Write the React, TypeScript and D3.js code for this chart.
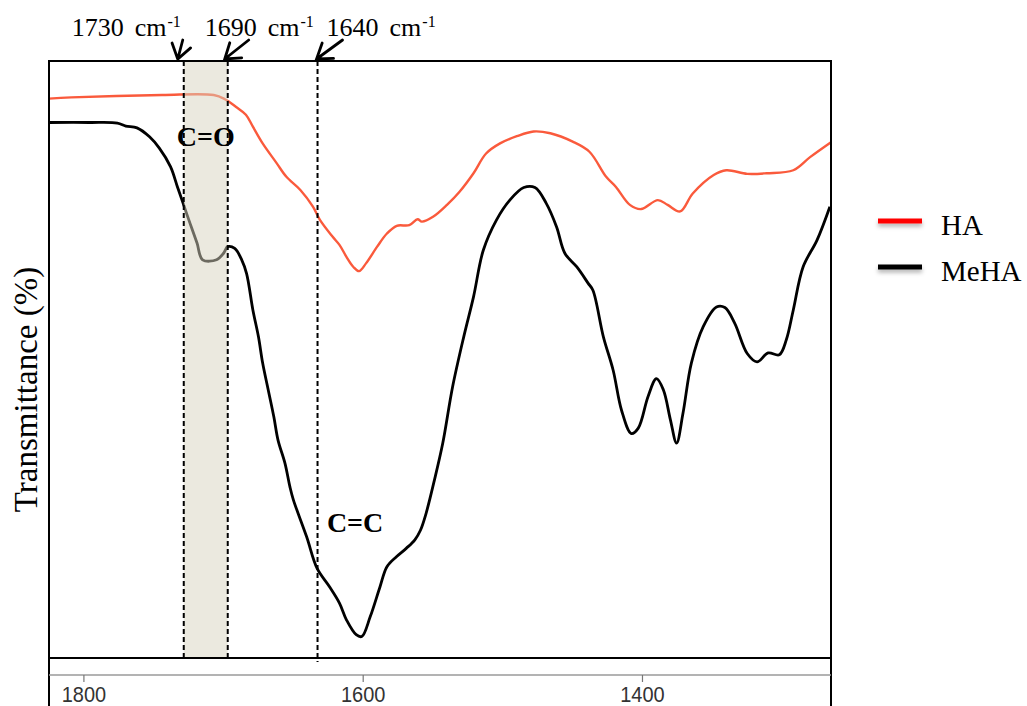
import * as d3 from "d3";
import { useEffect, useRef } from "react";

// wavenumber (cm-1) vs transmittance (%)
const haData: [number, number][] = [
  [1825, 93.7], [1809, 93.9], [1744, 94.3], [1707, 94.3], [1699, 93.6],
  [1691, 92.3], [1684, 91.0], [1679, 89.0], [1672, 86.2], [1662, 82.9],
  [1655, 80.6], [1645, 78.4], [1636, 75.6], [1631, 73.4], [1622, 70.6],
  [1617, 69.2], [1612, 67.2], [1607, 65.5], [1603, 64.8], [1598, 66.1],
  [1590, 68.9], [1583, 71.1], [1576, 72.4], [1567, 72.5], [1561, 73.5],
  [1558, 73.1], [1550, 73.9], [1540, 75.9], [1531, 78.1], [1521, 81.2],
  [1512, 84.5], [1502, 86.2], [1490, 87.4], [1478, 88.2], [1466, 87.9],
  [1450, 86.5], [1438, 84.8], [1426, 80.6], [1419, 78.9], [1409, 75.9],
  [1401, 75.2], [1389, 76.7], [1382, 75.9], [1373, 74.8], [1364, 77.8],
  [1349, 80.9], [1340, 81.7], [1325, 81.1], [1311, 81.2], [1292, 81.7],
  [1280, 83.9], [1265, 86.4],
];

const mehaData: [number, number][] = [
  [1825, 89.7], [1796, 89.7], [1776, 89.6], [1770, 89.1], [1762, 88.8],
  [1753, 87.3], [1746, 85.4], [1738, 82.3], [1733, 78.9], [1729, 76.2],
  [1724, 72.8], [1719, 69.5], [1715, 66.7], [1705, 66.7], [1700, 67.8],
  [1697, 68.9], [1692, 68.6], [1687, 66.7], [1683.5, 64.4], [1679, 58.3],
  [1675, 53.8], [1672, 49.4], [1668, 44.9], [1664, 40.4], [1661, 36.5],
  [1656, 32.6], [1652.5, 28.7], [1650, 26.5], [1640.5, 20.3], [1633, 15.0],
  [1624, 11.9], [1617, 9.2], [1612, 6.4], [1605, 3.9], [1601, 3.6],
  [1595, 6.9], [1588, 11.9], [1583, 15.3], [1576, 17.0], [1569, 18.4],
  [1563, 19.8], [1559, 21.4], [1555, 24.2], [1549, 29.8], [1543, 36.0],
  [1536, 45.4], [1528, 53.8], [1521, 60.5], [1514, 68.3], [1504.5, 73.4],
  [1495, 76.7], [1485, 78.8], [1477, 78.8], [1469, 76.2], [1461.5, 72.2],
  [1455.6, 67.8], [1447, 65.5], [1439, 62.8], [1435.5, 61.6], [1428, 53.8],
  [1421, 48.2], [1415, 41.5], [1408, 37.6], [1403, 38.5], [1396, 43.8],
  [1390, 46.8], [1385, 44.9], [1380, 39.9], [1375.6, 36.0], [1371, 41.0],
  [1365, 49.4], [1356.5, 55.5], [1347, 58.8], [1341, 58.7], [1334, 56.1],
  [1325, 51.0], [1318, 49.6], [1310, 51.1], [1302, 50.8], [1297, 53.3],
  [1292, 58.3], [1285, 65.5], [1275, 70.0], [1265.8, 75.6],
];

const seriesNames = ["HA", "MeHA"];
const seriesColors = ["#fa5a3c", "#000000"];
const legendColors = ["#ff0000", "#000000"];

const xTicks = [1800, 1600, 1400];

const markerNames = ["1730", "1690", "1640"];
const markerPositions = [1728.5, 1697, 1632.7];

const bondLabels = ["C=O", "C=C"];

export default function App() {
  const ref = useRef<SVGSVGElement | null>(null);

  useEffect(() => {
    const width = 1027;
    const height = 706;
    const box = { left: 49, right: 831, top: 61, bottom: 658 };
    const serif = "'Liberation Serif', 'Times New Roman', serif";

    const svg = d3.select(ref.current);
    svg.selectAll("*").remove();
    svg.attr("width", width).attr("height", height);

    const defs = svg.append("defs");
    const shadow = defs.append("filter").attr("id", "lgshadow")
      .attr("x", "-30%").attr("y", "-200%").attr("width", "160%").attr("height", "600%");
    shadow.append("feDropShadow").attr("dx", 0).attr("dy", 3)
      .attr("stdDeviation", 2).attr("flood-color", "#000").attr("flood-opacity", 0.3);

    svg.append("rect").attr("width", width).attr("height", height).attr("fill", "#fff");

    const x = d3.scaleLinear().domain([1825, 1265]).range([box.left, box.right]);
    const y = d3.scaleLinear().domain([0, 100]).range([box.bottom, box.top]);

    const line = d3.line<[number, number]>()
      .x((d) => x(d[0]))
      .y((d) => y(d[1]))
      .curve(d3.curveCatmullRom.alpha(0.5));

    [haData, mehaData].forEach((data, i) => {
      svg.append("path")
        .attr("d", line(data))
        .attr("fill", "none")
        .attr("stroke", seriesColors[i])
        .attr("stroke-width", i === 0 ? 2.4 : 2.8)
        .attr("stroke-linejoin", "round");
    });

    // shaded carbonyl band, drawn over the curves
    svg.append("rect")
      .attr("x", x(markerPositions[0]))
      .attr("y", box.top)
      .attr("width", x(markerPositions[1]) - x(markerPositions[0]))
      .attr("height", box.bottom - box.top)
      .attr("fill", "#d8d3c0")
      .attr("opacity", 0.5);

    markerPositions.forEach((p, i) => {
      svg.append("line")
        .attr("x1", x(p)).attr("x2", x(p))
        .attr("y1", box.top).attr("y2", i === 2 ? box.bottom + 4 : box.bottom)
        .attr("stroke", "#000").attr("stroke-width", 2)
        .attr("stroke-dasharray", "5,3");
    });

    // frame
    const frame = svg.append("g").attr("stroke", "#000").attr("stroke-width", 2);
    frame.append("line").attr("x1", box.left).attr("x2", box.right).attr("y1", box.top).attr("y2", box.top);
    frame.append("line").attr("x1", box.left).attr("x2", box.right).attr("y1", box.bottom).attr("y2", box.bottom);
    frame.append("line").attr("x1", box.left).attr("x2", box.left).attr("y1", box.top - 1).attr("y2", height);
    frame.append("line").attr("x1", box.right).attr("x2", box.right).attr("y1", box.top - 1).attr("y2", height);

    // axis strip
    const axisY = 675;
    svg.append("line")
      .attr("x1", box.left).attr("x2", box.right)
      .attr("y1", axisY).attr("y2", axisY)
      .attr("stroke", "#9a9a9a").attr("stroke-width", 1.5);
    const ticks = svg.append("g").selectAll("g").data(xTicks).join("g")
      .attr("transform", (d) => `translate(${x(d)},0)`);
    ticks.append("line").attr("y1", axisY).attr("y2", axisY + 7)
      .attr("stroke", "#777").attr("stroke-width", 1.2);
    ticks.append("text")
      .attr("y", 702)
      .attr("text-anchor", "middle")
      .attr("font-family", "'Liberation Sans', Arial, sans-serif")
      .attr("font-size", 20)
      .attr("fill", "#333")
      .attr("transform", "translate(0,702) scale(1,1.12) translate(0,-702)")
      .text((d) => d);

    // marker labels with arrows
    const labelDx = [-112, -23, 9];
    const tipDx = [-6, -3, -1];
    const tailDx = [-1, 21, 25];
    markerPositions.forEach((p, i) => {
      const px = x(p);
      const t = svg.append("text")
        .attr("x", px + labelDx[i]).attr("y", 36)
        .attr("font-family", serif).attr("font-size", 26).attr("fill", "#000");
      t.append("tspan").text(markerNames[i]);
      t.append("tspan").attr("dx", 11).text("cm");
      t.append("tspan").attr("dx", 1).attr("dy", -9).attr("font-size", 16).text("-1");

      const x1 = px + tailDx[i], y1 = 40;
      const x2 = px + tipDx[i], y2 = 59;
      const ang = Math.atan2(y2 - y1, x2 - x1);
      const len = 17, spread = 0.6;
      const a1 = [x2 - len * Math.cos(ang - spread), y2 - len * Math.sin(ang - spread)];
      const a2 = [x2 - len * Math.cos(ang + spread), y2 - len * Math.sin(ang + spread)];
      svg.append("path")
        .attr("d", `M${x1},${y1}L${x2},${y2}M${a1[0]},${a1[1]}L${x2},${y2}L${a2[0]},${a2[1]}`)
        .attr("fill", "none").attr("stroke", "#000").attr("stroke-width", 2.8)
        .attr("stroke-linecap", "round").attr("stroke-linejoin", "miter");
    });

    // bond labels
    svg.append("text")
      .attr("x", (x(markerPositions[0]) + x(markerPositions[1])) / 2)
      .attr("y", y(85.8))
      .attr("text-anchor", "middle")
      .attr("font-family", serif).attr("font-size", 28).attr("font-weight", "bold")
      .text(bondLabels[0]);
    svg.append("text")
      .attr("x", x(1626))
      .attr("y", y(21.1))
      .attr("font-family", serif).attr("font-size", 28).attr("font-weight", "bold")
      .text(bondLabels[1]);

    // y label
    svg.append("text")
      .attr("transform", `translate(37,${(box.top + box.bottom) / 2 + 30}) rotate(-90)`)
      .attr("text-anchor", "middle")
      .attr("font-family", serif).attr("font-size", 33)
      .text("Transmittance (%)");

    // legend
    const legend = svg.append("g").selectAll("g").data(seriesNames).join("g")
      .attr("transform", (_, i) => `translate(878,${221 + i * 46})`);
    legend.append("rect")
      .attr("x", 0).attr("y", -2.5).attr("width", 44).attr("height", 5)
      .attr("fill", (_, i) => legendColors[i])
      .attr("filter", "url(#lgshadow)");
    legend.append("text")
      .attr("x", 63).attr("y", 14)
      .attr("font-family", serif).attr("font-size", 29)
      .text((d) => d);
  }, []);

  return (
    <svg ref={ref} style={{ position: "absolute", left: 0, top: 0, display: "block" }} />
  );
}
